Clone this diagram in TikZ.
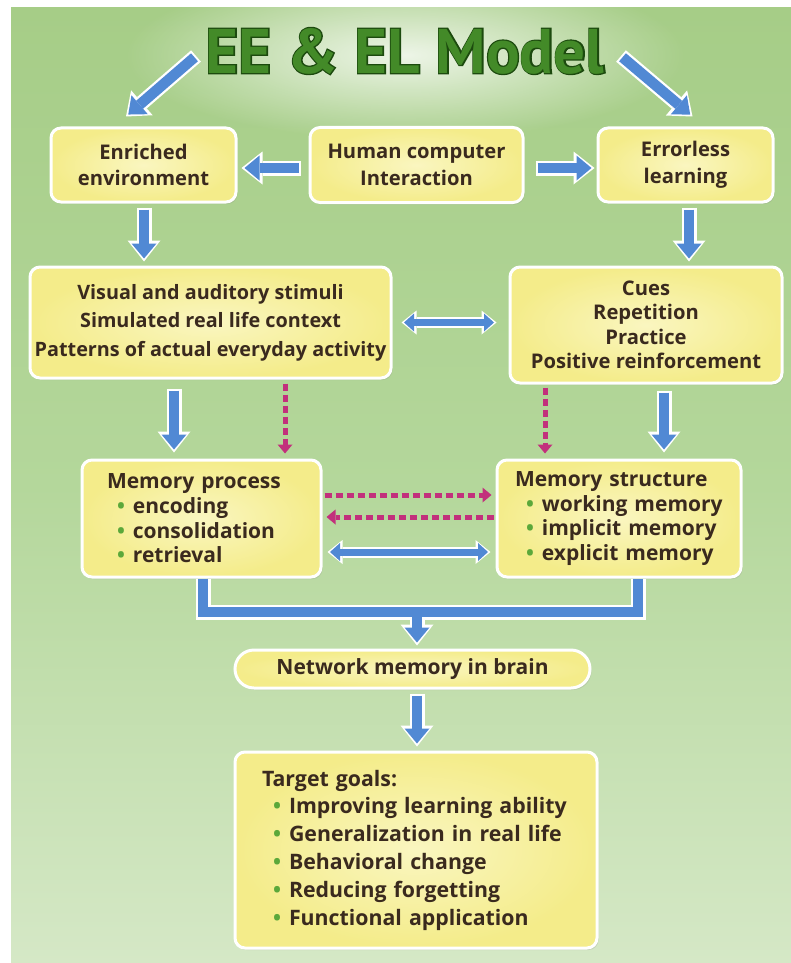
\documentclass[tikz,border=0pt]{standalone}
\usepackage{fontspec}
\setmainfont{Open Sans}
\newfontfamily\ptsans{PT Sans}
\newfontfamily\ptsansfat{PT Sans}[FakeBold=4]
\usetikzlibrary{arrows.meta,calc,shadows,fadings}
\definecolor{bgtop}{HTML}{A6CD87}
\definecolor{bgmid}{HTML}{B4D79B}
\definecolor{bgbot}{HTML}{D5E8C6}
\definecolor{boxin}{HTML}{FAF6C0}
\definecolor{boxout}{HTML}{F4EC8A}
\definecolor{arrblue}{HTML}{5189D4}
\definecolor{pinkc}{HTML}{C2307C}
\definecolor{txt}{HTML}{3A2A1E}
\definecolor{bulg}{HTML}{5BA83A}
\definecolor{ttlgreen}{HTML}{438A28}
\definecolor{ttldark}{HTML}{1C4A0E}
\tikzfading[name=glowfade, inner color=transparent!0, outer color=transparent!100]
\newcommand\bul{\textcolor{bulg}{•}\hspace{8pt}}
\newcommand\fatone[1]{\draw[wlayer,-whitehead] #1;\draw[blayer,-bluehead,shorten >=3pt,shorten <=2pt] #1;}
\newcommand\fattwo[1]{\draw[wlayer,line width=11pt,whiteheadsm-whiteheadsm] #1;\draw[blayer,line width=7pt,blueheadsm-blueheadsm,shorten >=2.5pt,shorten <=2.5pt] #1;}
\tikzset{
  whitehead/.tip={Triangle[width=33pt,length=21pt,line width=0pt]},
  bluehead/.tip={Triangle[width=25pt,length=15pt,line width=0pt]},
  whiteheadsm/.tip={Triangle[width=24pt,length=15pt,line width=0pt]},
  blueheadsm/.tip={Triangle[width=18pt,length=10pt,line width=0pt]},
  pinkhead/.tip={Triangle[width=15pt,length=9pt,line width=0pt]},
  wlayer/.style={draw=white, line width=15pt},
  blayer/.style={draw=arrblue, line width=10.5pt},
  pinkdash/.style={draw=pinkc, line width=5pt, dash pattern=on 7pt off 4pt, -pinkhead},
  box/.style={rounded corners=10pt, draw=white, line width=3pt, inner color=boxin, outer color=boxout,
    drop shadow={opacity=0.2, shadow xshift=1.5pt, shadow yshift=-2pt}, text=txt},
  topfont/.style={font=\bfseries\fontsize{20.2}{26.5}\selectfont},
  visfont/.style={font=\bfseries\fontsize{19.8}{28.5}\selectfont},
  cuesfont/.style={font=\bfseries\fontsize{20.2}{24.5}\selectfont},
  listfont/.style={font=\bfseries\fontsize{21}{24.7}\selectfont},
  goalfont/.style={font=\bfseries\fontsize{21.3}{27.8}\selectfont},
  ttl/.style={font=\ptsans\bfseries\fontsize{63}{65}\selectfont},
  ttlfat/.style={font=\ptsansfat\bfseries\fontsize{63}{65}\selectfont},
}
\begin{document}
\begin{tikzpicture}[x=1pt,y=-1pt]
\useasboundingbox (0,0) rectangle (791,963);
\fill[white] (0,0) rectangle (791,963);
\shade[top color=bgtop, bottom color=bgbot, middle color=bgmid] (11,8) rectangle (791,963);
\fill[white, opacity=0.8, path fading=glowfade] (405,55) ellipse [x radius=280pt, y radius=85pt];

% title
\node[ttlfat, text=ttldark] (tout) at (405,51) {EE \& EL Model};
\node[ttl, text=ttlgreen] (title) at (405,51) {EE \& EL Model};

% boxes
\node[box, topfont, align=center, minimum width=185pt, minimum height=74pt] (ee) at (143.5,165) {Enriched\\environment};
\node[box, topfont, align=center, minimum width=213pt, minimum height=75pt] (hci) at (416.5,165) {Human computer\\Interaction};
\node[box, topfont, align=center, minimum width=175pt, minimum height=74pt] (el) at (685.5,165) {Errorless\\learning};
\node[box, visfont, align=center, minimum width=361pt, minimum height=111pt] (vis) at (210.5,322.5)
  {Visual and auditory stimuli\\Simulated real life context\\Patterns of actual everyday activity};
\node[box, cuesfont, align=center, minimum width=272pt, minimum height=116pt] (cues) at (646,325)
  {Cues\\Repetition\\Practice\\Positive reinforcement};
\node[box, listfont, align=left, text width=189pt, inner xsep=25pt, minimum height=117pt] (mp) at (201.5,518.5)
  {Memory process\\\hspace*{10pt}\bul encoding\\\hspace*{10pt}\bul consolidation\\\hspace*{10pt}\bul retrieval};
\node[box, listfont, align=left, text width=208pt, inner xsep=18pt, minimum height=117pt] (ms) at (619,518.5)
  {Memory structure\\\hspace*{11pt}\bul working memory\\\hspace*{11pt}\bul implicit memory\\\hspace*{11pt}\bul explicit memory};
\node[box, listfont, rounded corners=19pt, align=center, minimum width=355pt, minimum height=38pt] (net) at (412.5,669)
  {Network memory in brain};
\node[box, goalfont, align=left, text width=308pt, inner xsep=27pt, minimum height=196pt] (tg) at (416,850)
  {Target goals:\\\hspace*{11pt}\bul Improving learning ability\\\hspace*{11pt}\bul Generalization in real life\\\hspace*{11pt}\bul Behavioral change\\\hspace*{11pt}\bul Reducing forgetting\\\hspace*{11pt}\bul Functional application};

% arrows
\coordinate (tl) at (196,56);
\coordinate (tr) at (621,56);
\fatone{(tl) -- ($(ee.north)+(-17.5,-10)$)}
\fatone{(tr) -- ($(el.north)+(7,-10)$)}
\fatone{($(hci.west)+(-8,3)$) -- ($(ee.east)+(4,3)$)}
\fatone{($(hci.east)+(11,3)$) -- ($(el.west)+(-2,3)$)}
\fatone{($(ee.south)+(0.5,4)$) -- ($(ee.south |- vis.north)+(0.5,-4)$)}
\fatone{($(el.south)+(3.5,4)$) -- ($(el.south |- cues.north)+(3.5,-4)$)}
\fattwo{($(vis.east)+(9,0)$) -- ($(vis.east -| cues.west)+(-12,0)$)}
\fatone{($(vis.south)+(-36.5,9)$) -- ($(vis.south |- mp.north)+(-36.5,-6)$)}
\draw[pinkdash] ($(vis.south)+(74.5,4)$) -- ($(vis.south |- mp.north)+(74.5,-5)$);
\draw[pinkdash] ($(cues.south)+(-101,3)$) -- ($(cues.south |- ms.north)+(-101,-5)$);
\fatone{($(cues.south)+(18,6)$) -- ($(cues.south |- ms.north)+(18,-6)$)}
\draw[pinkdash] ($(mp.east)+(2,-23.5)$) -- ($(ms.west)+(-4,-23.5)$);
\draw[pinkdash] ($(ms.west)+(-2,-1.5)$) -- ($(mp.east)+(4,-1.5)$);
\fattwo{($(mp.east)+(5,33.5)$) -- ($(ms.west)+(-5,33.5)$)}

% bracket
\coordinate (bl) at ($(mp.south)+(1.5,0)$);
\coordinate (br) at ($(ms.south)+(19,0)$);
\coordinate (bm) at ($(net.north)+(4.5,-36.5)$);
\draw[wlayer, line join=miter] (bl) |- (bm) -| (br);
\draw[wlayer, -whitehead] (bm) -- ($(net.north)+(4.5,-3)$);
\draw[blayer, line join=miter] (bl) |- (bm) -| (br);
\draw[blayer, -bluehead, shorten >=3pt] (bm) -- ($(net.north)+(4.5,-3)$);
\fatone{($(net.south)+(4.5,4)$) -- ($(net.south |- tg.north)+(4.5,-4)$)}
\end{tikzpicture}
\end{document}
